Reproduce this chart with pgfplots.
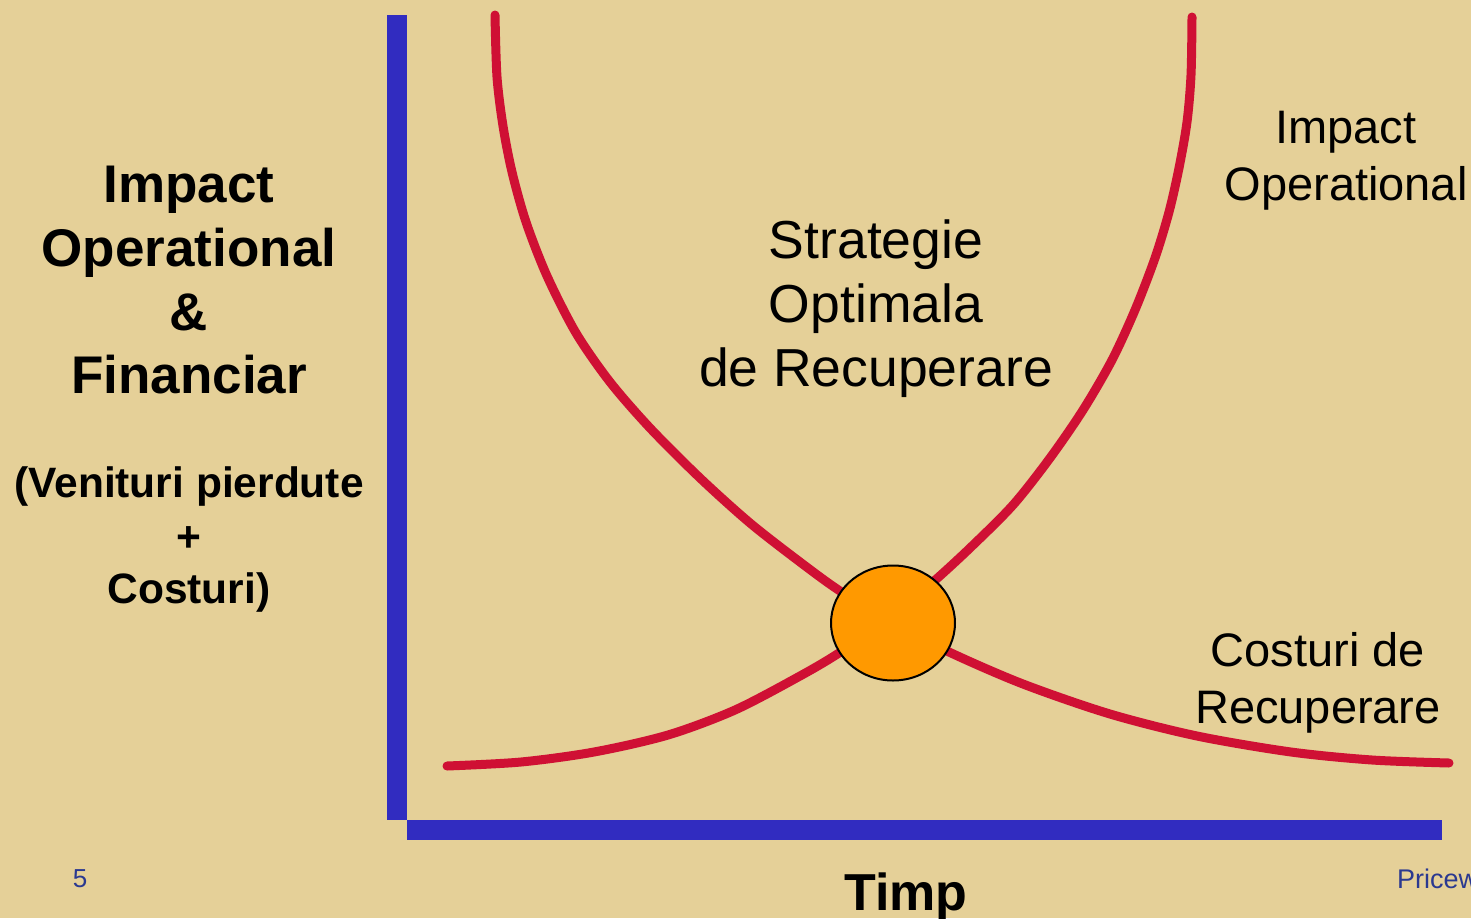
\documentclass[border=0pt]{standalone}
\usepackage{pgfplots}
\pgfplotsset{compat=1.18}
\usepackage{fontspec}
\setmainfont{Liberation Sans}

\definecolor{bgc}{RGB}{229,208,152}
\definecolor{axblue}{RGB}{49,44,192}
\definecolor{curvered}{RGB}{207,16,52}
\definecolor{dotorange}{RGB}{255,153,0}
\definecolor{footblue}{RGB}{43,57,144}

\tikzset{lbl/.style={inner sep=0pt, anchor=base}}

\begin{document}
\begin{tikzpicture}
\useasboundingbox (0,0) rectangle (1471pt,918pt);
\clip (0,0) rectangle (1471pt,918pt);
\fill[bgc] (0,0) rectangle (1471pt,918pt);
\begin{axis}[
    at={(0,0)}, anchor=south west,
    width=1471pt, height=918pt,
    scale only axis,
    xmin=0, xmax=1471,
    ymin=0, ymax=918,
    y dir=reverse,
    hide axis,
    clip=false,
]
% axes drawn as thick blue bars
\addplot[axblue, line width=20pt, line cap=butt] coordinates {(397,15) (397,820)};
\addplot[axblue, line width=20pt, line cap=butt] coordinates {(407,830) (1442,830)};

% costuri de recuperare (falls)
\addplot[curvered, line width=9pt, line cap=round, smooth] coordinates {
    (495,15) (497,77) (503,126) (512,172) (526,222) (547,276) (576,333)
    (610,382) (650,428) (700,478) (750,523) (800,562) (840,591) (893,623)
    (949,652) (1023,684) (1110,714) (1197,736) (1291,752) (1372,760) (1449,763)
};
% impact operational (rises)
\addplot[curvered, line width=9pt, line cap=round, smooth] coordinates {
    (447,766) (521,762) (594,752) (668,735) (735,710) (800,676) (839,653)
    (890,618) (933,582) (970,548) (1013,505) (1050,458) (1083,410) (1112,360)
    (1135,310) (1155,258) (1169,212) (1179,168) (1187,122) (1191,75) (1192,17)
};
% optimum point
\addplot[only marks, mark=*, mark size=57.5pt,
    mark options={xscale=1.078, fill=dotorange, draw=black, line width=2pt}]
    coordinates {(893,623)};

% y label
\node[lbl, font=\fontsize{53}{64}\selectfont\bfseries] at (axis cs:189,202) {Impact};
\node[lbl, font=\fontsize{53}{64}\selectfont\bfseries] at (axis cs:189,266) {Operational};
\node[lbl, font=\fontsize{53}{64}\selectfont\bfseries] at (axis cs:189,330) {\&};
\node[lbl, font=\fontsize{53}{64}\selectfont\bfseries] at (axis cs:189,393) {Financiar};
\node[lbl, font=\fontsize{42.5}{52}\selectfont\bfseries] at (axis cs:189,497) {(Venituri pierdute};
\node[lbl, font=\fontsize{42.5}{52}\selectfont\bfseries] at (axis cs:189,551) {+};
\node[lbl, font=\fontsize{42.5}{52}\selectfont\bfseries] at (axis cs:189,603) {Costuri)};

% x label
\node[lbl, font=\fontsize{52}{62}\selectfont\bfseries] at (axis cs:906,910) {Timp};

% curve labels
\node[lbl, font=\fontsize{53.5}{64}\selectfont] at (axis cs:876,258) {Strategie};
\node[lbl, font=\fontsize{53.5}{64}\selectfont] at (axis cs:876,322) {Optimala};
\node[lbl, font=\fontsize{53.5}{64}\selectfont] at (axis cs:876,386) {de Recuperare};
\node[lbl, font=\fontsize{47}{57}\selectfont] at (axis cs:1346,143) {Impact};
\node[lbl, font=\fontsize{47}{57}\selectfont] at (axis cs:1346,200) {Operational};
\node[lbl, font=\fontsize{47}{57}\selectfont] at (axis cs:1318,666) {Costuri de};
\node[lbl, font=\fontsize{47}{57}\selectfont] at (axis cs:1318,723) {Recuperare};

% footer
\node[lbl, font=\fontsize{26}{30}\selectfont, text=footblue] at (axis cs:80,887) {5};
\node[lbl, font=\fontsize{27}{30}\selectfont, text=footblue, anchor=base west] at (axis cs:1397,888) {PricewaterhouseCoopers};
\end{axis}
\end{tikzpicture}
\end{document}
